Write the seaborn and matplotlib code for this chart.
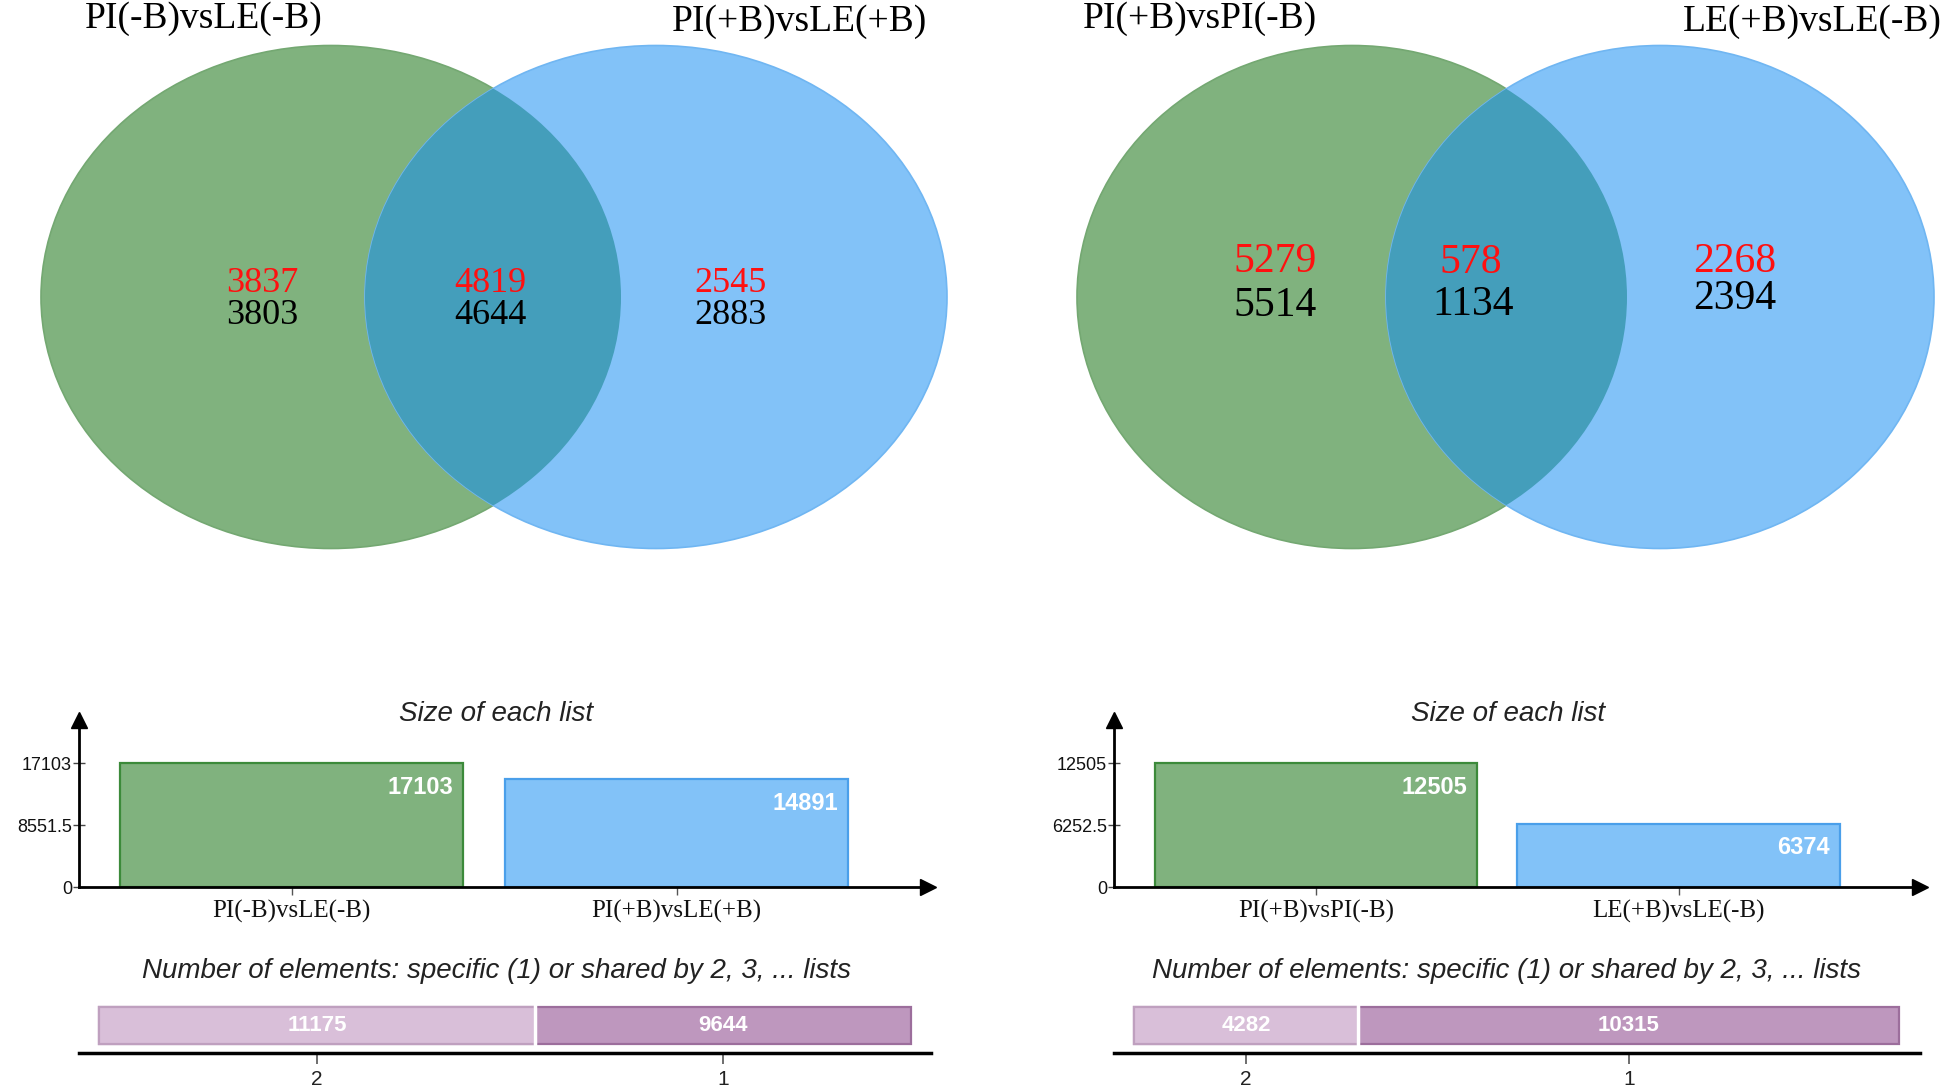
import numpy as np
import pandas as pd
import matplotlib
matplotlib.use("Agg")
import matplotlib.pyplot as plt
import seaborn as sns
from matplotlib.patches import Ellipse

# ---------------- data ----------------
venn1_sets = ["PI(-B)vsLE(-B)", "PI(+B)vsLE(+B)"]
venn1_red = [3837, 4819, 2545]
venn1_black = [3803, 4644, 2883]

venn2_sets = ["PI(+B)vsPI(-B)", "LE(+B)vsLE(-B)"]
venn2_red = [5279, 578, 2268]
venn2_black = [5514, 1134, 2394]

sizes1 = [17103, 14891]
sizes2 = [12505, 6374]

shared_labels = ["2", "1"]
shared1 = [11175, 9644]
shared2 = [4282, 10315]

size_title = "Size of each list"
shared_title = "Number of elements: specific (1) or shared by 2, 3, ... lists"

# ---------------- style ----------------
W, H = 1946, 1086
GREEN = "#80B27E"
GREEN_EDGE = "#3C8A3A"
BLUE = "#82C2F8"
BLUE_EDGE = "#4A9FEA"
OVERLAP = "#449EBB"
LIGHT_P = "#D9BFD9"
LIGHT_P_EDGE = "#BFA0BF"
DARK_P = "#BE97BE"
DARK_P_EDGE = "#9C6E9C"

sns.set_theme(style="white")
plt.rcParams["font.family"] = ["Liberation Sans", "DejaVu Sans"]
SERIF = ["Liberation Serif", "DejaVu Serif"]

fig = plt.figure(figsize=(W / 100, H / 100), dpi=100)
fig.patch.set_facecolor("white")


def px_axes(x0, y0, x1, y1, **kw):
    return fig.add_axes([x0 / W, 1 - y1 / H, (x1 - x0) / W, (y1 - y0) / H], **kw)


# ---------------- Venn diagrams (overlay in pixel space) ----------------
vax = px_axes(0, 0, W, H)
vax.set_xlim(0, W)
vax.set_ylim(H, 0)
vax.axis("off")


def draw_venn(g, b, names, title_xy, red, black, num_xy_red, num_xy_black, fs_num, fs_title):
    # g, b: (cx, cy, w, h)
    ge = Ellipse((g[0], g[1]), g[2], g[3], facecolor=GREEN, edgecolor="#74A872", lw=1.2, zorder=1)
    vax.add_patch(ge)
    be = Ellipse((b[0], b[1]), b[2], b[3], facecolor=BLUE, edgecolor="#70B6F2", lw=1.2, zorder=2)
    vax.add_patch(be)
    oe = Ellipse((b[0], b[1]), b[2], b[3], facecolor=OVERLAP, edgecolor="none", zorder=3)
    vax.add_patch(oe)
    oe.set_clip_path(ge)
    for name, (tx, ty) in zip(names, title_xy):
        vax.text(tx, ty, name, family=SERIF, fontsize=fs_title, ha="center", va="center",
                 color="black", zorder=5)
    for v, (x, y) in zip(red, num_xy_red):
        vax.text(x, y, f"{v}", family=SERIF, fontsize=fs_num, ha="center", va="center",
                 color="#FF1010", zorder=5)
    for v, (x, y) in zip(black, num_xy_black):
        vax.text(x, y, f"{v}", family=SERIF, fontsize=fs_num, ha="center", va="center",
                 color="black", zorder=5)


draw_venn(g=(331, 297, 580, 503), b=(656, 297, 582, 503), names=venn1_sets,
          title_xy=[(204, 19), (799, 22)],
          red=venn1_red, black=venn1_black,
          num_xy_red=[(262, 284), (490, 284), (731, 283)],
          num_xy_black=[(262, 316), (490, 316), (731, 315)],
          fs_num=26, fs_title=27)

draw_venn(g=(1352, 297, 550, 503), b=(1660, 297, 548, 503), names=venn2_sets,
          title_xy=[(1200, 19), (1812, 22)],
          red=venn2_red, black=venn2_black,
          num_xy_red=[(1275, 262), (1471, 263), (1735, 262)],
          num_xy_black=[(1275, 306), (1473, 305), (1735, 299)],
          fs_num=30, fs_title=27)


# ---------------- "Size of each list" bar charts ----------------
def size_chart(box, names, sizes, xlim, title_xy):
    ax = px_axes(*box)
    df = pd.DataFrame({"set": names, "size": sizes})
    sns.barplot(data=df, x="set", y="size", hue="set", palette=[GREEN, BLUE],
                width=0.89, saturation=1, legend=False, ax=ax)
    for p, ec in zip(ax.patches, [GREEN_EDGE, BLUE_EDGE]):
        p.set_edgecolor(ec)
        p.set_linewidth(1.6)
    top = max(sizes)
    ax.set_ylim(0, top * 167 / 124)
    ax.set_xlim(*xlim)
    ticks = [0, top / 2, top]
    ax.set_yticks(ticks, [f"{t:g}" for t in ticks])
    ax.set_xlabel("")
    ax.set_ylabel("")
    for s in ["top", "right"]:
        ax.spines[s].set_visible(False)
    for s in ["left", "bottom"]:
        ax.spines[s].set_color("black")
        ax.spines[s].set_linewidth(2)
    ax.plot(1, 0, marker=">", color="black", ms=11, transform=ax.transAxes, clip_on=False)
    ax.plot(0, 1, marker="^", color="black", ms=11, transform=ax.transAxes, clip_on=False)
    ax.tick_params(axis="y", left=True, direction="inout", length=8, width=1,
                   color="#444444", labelsize=13, pad=1, labelcolor="#111111")
    ax.tick_params(axis="x", bottom=True, direction="out", length=6, width=1,
                   color="#555555", pad=3)
    for lab in ax.get_xticklabels():
        lab.set_family(SERIF)
        lab.set_fontsize(18)
        lab.set_color("#111111")
    for i, v in enumerate(sizes):
        ax.annotate(f"{v}", xy=(i + 0.89 / 2, v), xytext=(-7, -9), textcoords="offset points",
                    ha="right", va="top", color="white", fontsize=17, fontweight="bold")
    ax.set_facecolor("none")
    fig.text(title_xy[0] / W, 1 - title_xy[1] / H, size_title, ha="center", va="center",
             style="italic", fontsize=20, color="#222222")
    return ax


size_chart((79, 720, 928, 887), venn1_sets, sizes1, (-0.552, 1.653), (496, 714))
size_chart((1114, 720, 1920, 887), venn2_sets, sizes2, (-0.557, 1.666), (1508, 714))


# ---------------- shared / specific stacked bars ----------------
def shared_chart(box, values, bar_px, title_xy):
    ax = px_axes(*box)
    x0, x1 = box[0], box[2]
    b0, b1 = bar_px
    tot = sum(values)
    upp = tot / (b1 - b0)  # units per pixel
    ax.set_xlim(-(b0 - x0) * upp, tot + (x1 - b1) * upp)
    row = ["r"]
    sns.barplot(x=[tot], y=row, orient="h", color=DARK_P, saturation=1, width=0.8,
                edgecolor=DARK_P_EDGE, linewidth=1.6, ax=ax)
    sns.barplot(x=[values[0]], y=row, orient="h", color=LIGHT_P, saturation=1, width=0.8,
                edgecolor=LIGHT_P_EDGE, linewidth=1.6, ax=ax)
    ax.axvline(values[0], ymin=0.12, ymax=0.9, color="white", lw=2.5, zorder=5)
    ax.set_ylim(0.60, -0.555)
    centers = [values[0] / 2, values[0] + values[1] / 2]
    ax.set_xticks(centers, shared_labels)
    ax.set_yticks([])
    ax.set_xlabel("")
    ax.set_ylabel("")
    for s in ["top", "right", "left"]:
        ax.spines[s].set_visible(False)
    ax.spines["bottom"].set_color("black")
    ax.spines["bottom"].set_linewidth(2.5)
    ax.tick_params(axis="x", bottom=True, direction="out", length=8, width=1.2,
                   color="#555555", labelsize=15, pad=4, labelcolor="#222222")
    for c, v in zip(centers, values):
        ax.text(c, 0, f"{v}", ha="center", va="center", color="white",
                fontsize=16, fontweight="bold", zorder=6)
    ax.set_facecolor("none")
    fig.text(title_xy[0] / W, 1 - title_xy[1] / H, shared_title, ha="center", va="center",
             style="italic", fontsize=20, color="#222222")
    return ax


shared_chart((79, 1000, 931, 1053), shared1, (99, 911), (496, 971))
shared_chart((1114, 1000, 1920, 1053), shared2, (1134, 1899), (1507, 971))

fig.savefig("out.png", dpi=100, facecolor="white")
